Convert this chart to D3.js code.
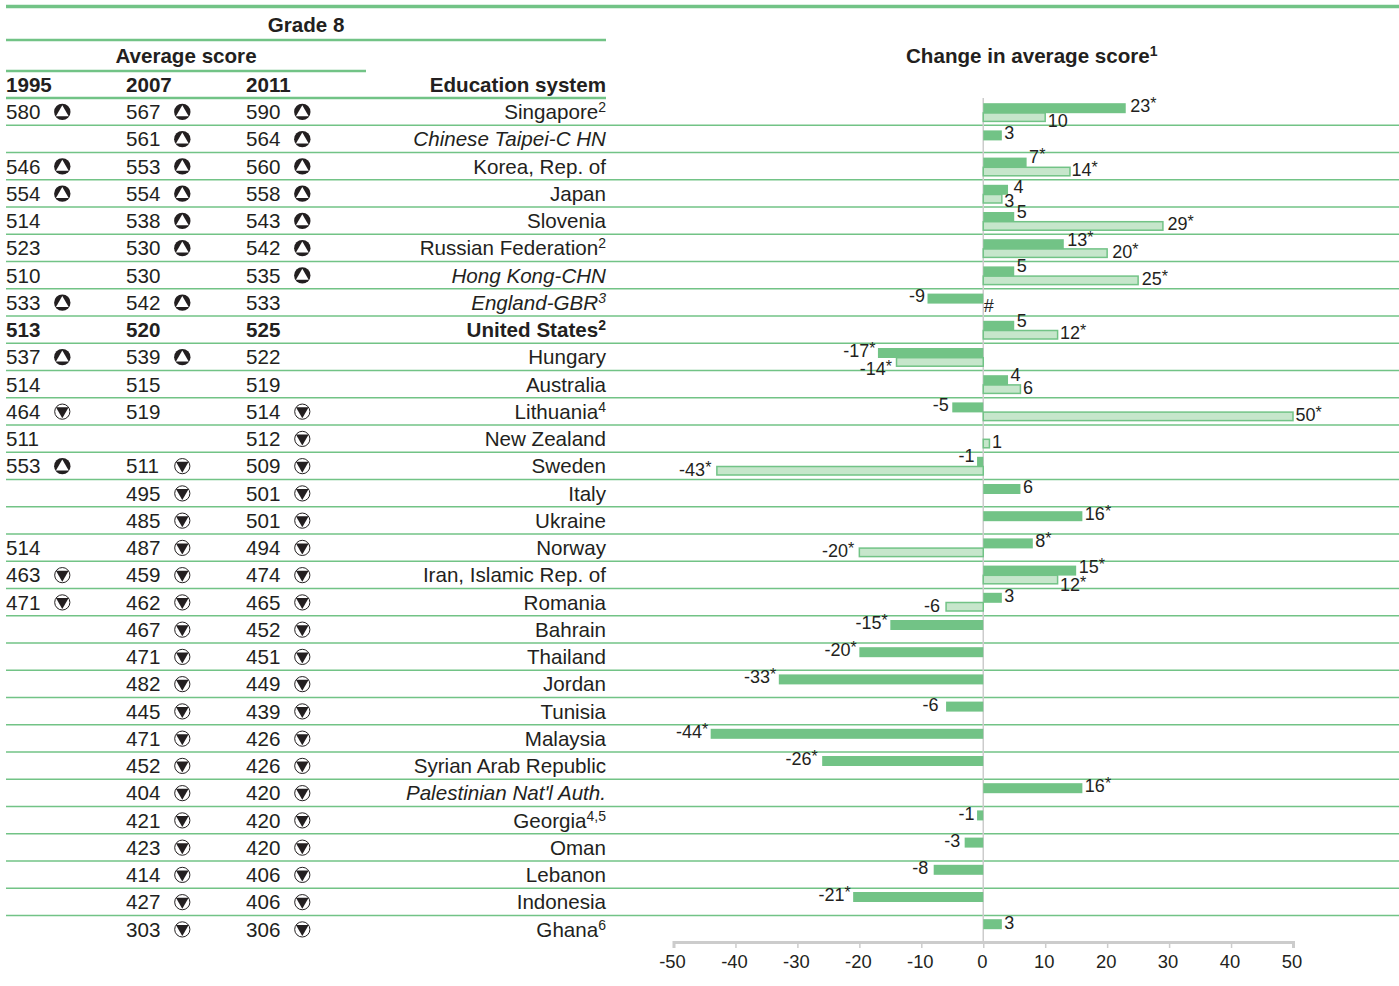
<!DOCTYPE html>
<html><head><meta charset="utf-8">
<script src="https://cdn.jsdelivr.net/npm/d3@7"></script>
<style>html,body{margin:0;padding:0;background:#fff;overflow:hidden}svg{display:block}text{font-family:"Liberation Sans",Arial,sans-serif;fill:#231f20}</style>
</head><body><div id="chart"></div>
<script>
const systems=["Singapore","Chinese Taipei-C HN","Korea, Rep. of","Japan","Slovenia","Russian Federation","Hong Kong-CHN","England-GBR","United States","Hungary","Australia","Lithuania","New Zealand","Sweden","Italy","Ukraine","Norway","Iran, Islamic Rep. of","Romania","Bahrain","Thailand","Jordan","Tunisia","Malaysia","Syrian Arab Republic","Palestinian Nat'l Auth.","Georgia","Oman","Lebanon","Indonesia","Ghana"];
const footnotes=["2","","","","","2","","3","2","","","4","","","","","","","","","","","","","","","4,5","","","","6"];
const italicRows=[1,6,7,25];
const boldRows=[8];
const score1995=[580,null,546,554,514,523,510,533,513,537,514,464,511,553,null,null,514,463,471,null,null,null,null,null,null,null,null,null,null,null,null];
const mark1995=["u","","u","u","","","","u","","u","","d","","u","","","","d","d","","","","","","","","","","","",""];
const score2007=[567,561,553,554,538,530,530,542,520,539,515,519,null,511,495,485,487,459,462,467,471,482,445,471,452,404,421,423,414,427,303];
const mark2007=["u","u","u","u","u","u","","u","","u","","","","d","d","d","d","d","d","d","d","d","d","d","d","d","d","d","d","d","d"];
const score2011=[590,564,560,558,543,542,535,533,525,522,519,514,512,509,501,501,494,474,465,452,451,449,439,426,426,420,420,420,406,406,306];
const mark2011=["u","u","u","u","u","u","u","","","","","d","d","d","d","d","d","d","d","d","d","d","d","d","d","d","d","d","d","d","d"];
const change2007=[23,3,7,4,5,13,5,-9,5,-17,4,-5,null,-1,6,16,8,15,3,-15,-20,-33,-6,-44,-26,16,-1,-3,-8,-21,3];
const sig2007=[1,0,1,0,0,1,0,0,0,1,0,0,0,0,0,1,1,1,0,1,1,1,0,1,1,1,0,0,0,1,0];
const change1995=[10,null,14,3,29,20,25,0,12,-14,6,50,1,-43,null,null,-20,12,-6,null,null,null,null,null,null,null,null,null,null,null,null];
const sig1995=[0,0,1,0,1,1,1,0,1,1,0,1,0,1,0,0,1,1,0,0,0,0,0,0,0,0,0,0,0,0,0];
const axisTicks=[-50,-40,-30,-20,-10,0,10,20,30,40,50];

const GREEN="#72c386",LIGHT="#c6e6cb",INK="#231f20",GRAY="#cccccc";
const W=1399,H=986,FS=20.6;
const svg=d3.select("#chart").append("svg").attr("width",W).attr("height",H);
const x=d3.scaleLinear().domain([-50,50]).range([673.5,1293]);
const y=d3.scaleLinear().domain([0,30]).range([98,915.5]);
const barY=d3.scaleLinear().domain([0,30]).range([103.2,919.2]);
const labelY=d3.scaleLinear().domain([0,30]).range([105,922]);
const rows=d3.range(systems.length);

// rules
function rule(x1,x2,yy,w){svg.append("line").attr("x1",x1).attr("x2",x2).attr("y1",yy).attr("y2",yy).attr("stroke",GREEN).attr("stroke-width",w);}
rule(6,W,6.5,3.5);rule(6,606,40,2.5);rule(6,366,71,2.5);rule(6,606,98,2.5);
d3.range(1,31).forEach(i=>rule(6,W,y(i),1.5));

// headers
function head(t,xx,yy,anchor){return svg.append("text").attr("x",xx).attr("y",yy).attr("text-anchor",anchor||"start").attr("font-size",FS).attr("font-weight",700).text(t);}
head("Grade 8",306,32,"middle");
head("Average score",186,63,"middle");
head("1995",6,92);head("2007",126,92);head("2011",246,92);
head("Education system",606,92,"end");
const ch=head("Change in average score",906,63);
ch.append("tspan").attr("dy",-7).attr("font-size",14).text("1");

// score columns
const cols=[{s:score1995,m:mark1995,x:6,mx:62.3},{s:score2007,m:mark2007,x:126,mx:182.3},{s:score2011,m:mark2011,x:246,mx:302.3}];
const tri=d3.symbol().type(d3.symbolTriangle).size(70);
cols.forEach(c=>{
  const g=svg.append("g");
  g.selectAll("text").data(rows.filter(i=>c.s[i]!=null)).join("text")
    .attr("x",c.x).attr("y",i=>y(i)+21.2).attr("font-size",FS)
    .attr("font-weight",i=>boldRows.includes(i)?700:400).text(i=>c.s[i]);
  const mk=g.selectAll("g").data(rows.filter(i=>c.m[i])).join("g")
    .attr("transform",i=>`translate(${c.mx},${y(i)+13.9})`);
  mk.append("circle").attr("r",i=>c.m[i]=="u"?8.2:7.6)
    .attr("fill",i=>c.m[i]=="u"?INK:"#fff").attr("stroke",INK).attr("stroke-width",i=>c.m[i]=="u"?0:1);
  mk.append("path").attr("d",tri)
    .attr("transform",i=>c.m[i]=="u"?"translate(0,0.8)":"translate(0,-0.8) rotate(180)")
    .attr("fill",i=>c.m[i]=="u"?"#fff":INK);
});

// system names
const names=svg.append("g").selectAll("text").data(rows).join("text")
  .attr("x",606).attr("y",i=>y(i)+21).attr("text-anchor","end").attr("font-size",FS)
  .attr("font-style",i=>italicRows.includes(i)?"italic":"normal")
  .attr("font-weight",i=>boldRows.includes(i)?700:400).text(i=>systems[i]);
names.filter(i=>footnotes[i]).append("tspan").attr("dy",-7).attr("font-size",14).text(i=>footnotes[i]);

// axis
svg.append("line").attr("x1",x(0)).attr("x2",x(0)).attr("y1",98).attr("y2",942).attr("stroke",GRAY).attr("stroke-width",1.5);
const axis=svg.append("g").attr("transform","translate(0,942)")
  .call(d3.axisBottom(x).tickValues(axisTicks).tickSize(6).tickPadding(7).tickFormat(d=>String(d)));
axis.select(".domain").attr("stroke",GRAY).attr("stroke-width",3);
axis.selectAll(".tick line").attr("stroke",GRAY).attr("stroke-width",1.5);
axis.selectAll(".tick text").attr("font-size",18.4).attr("dx",-1.5).attr("font-family",'"Liberation Sans",Arial,sans-serif').attr("fill",INK);

// bars
function bars(vals,top,h,fill,stroke){
  svg.append("g").selectAll("rect").data(rows.filter(i=>vals[i]!=null&&vals[i]!==0)).join("rect")
    .attr("x",i=>Math.min(x(0),x(vals[i]))).attr("width",i=>Math.abs(x(vals[i])-x(0)))
    .attr("y",i=>barY(i)+top).attr("height",h).attr("fill",fill)
    .attr("stroke",stroke||"none").attr("stroke-width",stroke?1.5:0);
}
bars(change1995,9.7,8.5,LIGHT,GREEN);
bars(change2007,0,10,GREEN);

// value labels: per-row nudges for annotations moved clear of neighbours in the source layout
const nudgeY2007={2:-2.5,4:-2,5:-2,6:-2.5,8:-2,10:-2.5,13:-4,17:-1};
const nudgeY1995={0:5,3:4,9:8,17:7};
const nudgeX2007={0:2,3:3,5:1,11:-1,22:-5,24:-2,27:-2,28:-3,18:0};
const nudgeX1995={2:-1,4:2,5:2.5,6:1,7:-2,9:-2,13:-3,16:-2.5,18:-3.5};
function labels(vals,sig,base,ny,nx){
  const sel=svg.append("g").selectAll("text").data(rows.filter(i=>vals[i]!=null)).join("text")
    .attr("x",i=>x(vals[i])+(vals[i]<0?-2.5:2.5)+(nx[i]||0))
    .attr("y",i=>labelY(i)+base+(ny[i]||0)+6.5)
    .attr("text-anchor",i=>vals[i]<0?"end":"start").attr("font-size",18)
    .text(i=>vals[i]===0?"#":vals[i]);
  sel.filter(i=>sig[i]).append("tspan").attr("dy",-3).attr("font-size",16).text("*");
}
labels(change2007,sig2007,0,nudgeY2007,nudgeX2007);
labels(change1995,sig1995,10,nudgeY1995,nudgeX1995);
</script></body></html>
